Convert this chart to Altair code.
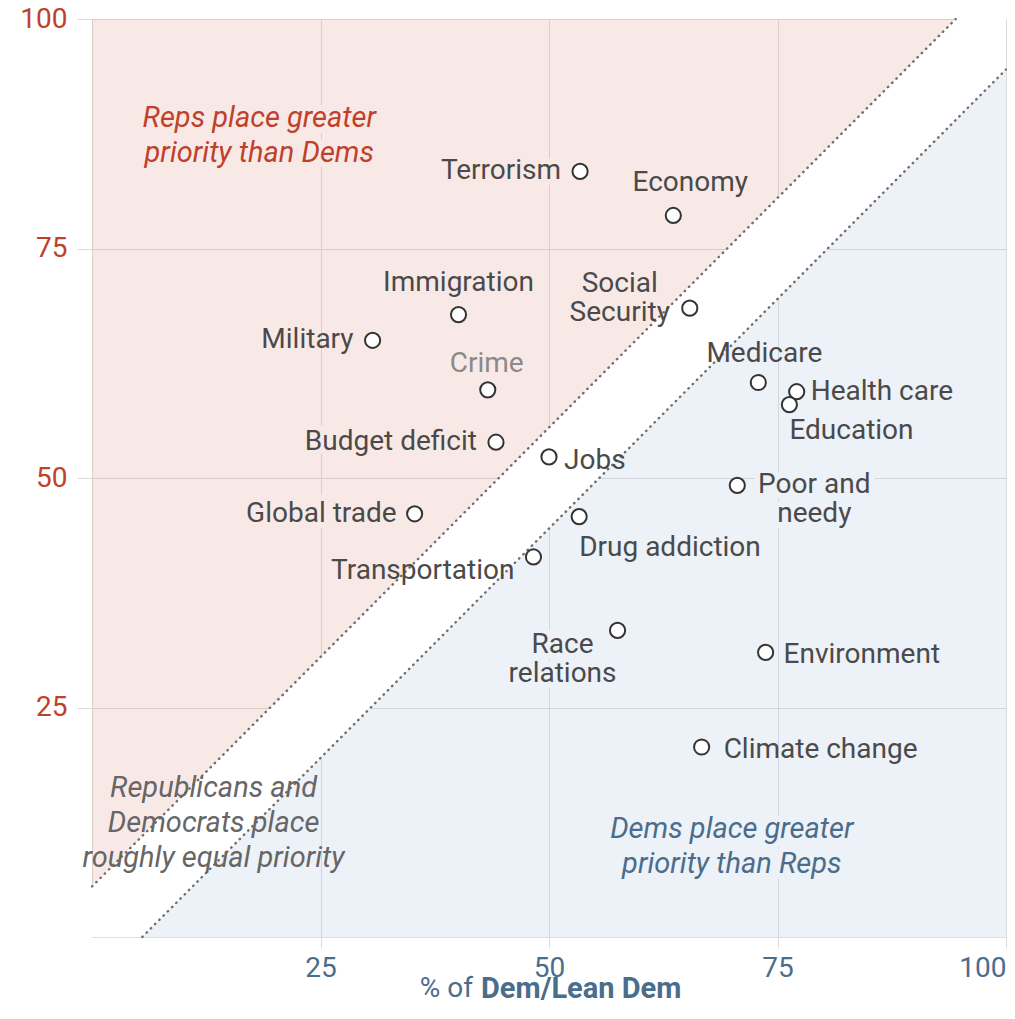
import altair as alt
import pandas as pd

# ---------------- data ----------------
issues = ["Terrorism", "Economy", "Social Security", "Immigration", "Military",
          "Crime", "Medicare", "Health care", "Education", "Poor and needy",
          "Budget deficit", "Jobs", "Global trade", "Drug addiction",
          "Transportation", "Race relations", "Environment", "Climate change"]
dem_pct = [53.4, 63.6, 65.4, 40.1, 30.7, 43.3, 72.9, 77.1, 76.3, 70.6,
           44.2, 50.0, 35.3, 53.3, 48.3, 57.5, 73.7, 66.7]
rep_pct = [83.4, 78.6, 68.5, 67.8, 65.0, 59.6, 60.4, 59.4, 58.0, 49.2,
           53.9, 52.3, 46.1, 45.8, 41.4, 33.4, 31.0, 20.7]
label_text = ["Terrorism", "Economy", "Social\nSecurity", "Immigration", "Military",
              "Crime", "Medicare", "Health care", "Education", "Poor and\nneedy",
              "Budget deficit", "Jobs", "Global trade", "Drug addiction",
              "Transportation", "Race\nrelations", "Environment", "Climate change"]
ticks = [25, 50, 75, 100]
band = 5.5  # half-width of "roughly equal" band, in points

# ---------------- layout / style ----------------
FONT = "Roboto"
W, H = 914, 918
RED = "#c0412b"
BLUE = "#4b6d8c"
GREY_TXT = "#4a4a4a"
GRID = "#dcdcdc"
PINK_BG = "#f9e9e6"
BLUE_BG = "#edf1f8"

# label placement: align, dx, dy (first line), color, halo colour (or None)
label_layout = {
    "Terrorism": ("right", -19, 0, GREY_TXT, PINK_BG),
    "Economy": ("center", 17, -32, GREY_TXT, None),
    "Social Security": ("center", -70, -24, GREY_TXT, None),
    "Immigration": ("center", 0, -32, GREY_TXT, None),
    "Military": ("right", -19, 0, GREY_TXT, None),
    "Crime": ("center", -1, -26, "#8a8a8a", None),
    "Medicare": ("center", 6, -29, GREY_TXT, None),
    "Health care": ("left", 14, 0, GREY_TXT, None),
    "Education": ("left", 0, 26, GREY_TXT, None),
    "Poor and needy": ("center", 77, 0, GREY_TXT, BLUE_BG),
    "Budget deficit": ("right", -19, 0, GREY_TXT, PINK_BG),
    "Jobs": ("left", 15, 4, GREY_TXT, None),
    "Global trade": ("right", -18, 0, GREY_TXT, PINK_BG),
    "Drug addiction": ("left", 0, 31, GREY_TXT, None),
    "Transportation": ("right", -19, 14, GREY_TXT, None),
    "Race relations": ("center", -55, 15, GREY_TXT, BLUE_BG),
    "Environment": ("left", 18, 3, GREY_TXT, BLUE_BG),
    "Climate change": ("left", 22, 3, GREY_TXT, None),
}


def X():
    return alt.X("x:Q", scale=alt.Scale(domain=[0, 100], nice=False, zero=False),
                 axis=alt.Axis(values=ticks, title=None, domain=False, grid=True,
                               gridColor=GRID, gridWidth=1, tickColor=GRID,
                               tickSize=11, labelPadding=6, labelFont=FONT,
                               labelFontSize=28, labelColor=BLUE, labelFlush=True))


def Y():
    return alt.Y("y:Q", scale=alt.Scale(domain=[0, 100], nice=False, zero=False),
                 axis=alt.Axis(values=ticks, title=None, domain=False, grid=True,
                               gridColor=GRID, gridWidth=1, tickColor=GRID,
                               tickSize=15, labelPadding=10, labelFont=FONT,
                               labelFontSize=28, labelColor=RED, labelFlush=False))


pts = pd.DataFrame({"x": dem_pct, "y": rep_pct, "issue": issues, "label": label_text})

pink_df = pd.DataFrame({"x": [0, 100 - band], "y": [band, 100], "y2": [100, 100]})
blue_df = pd.DataFrame({"x": [band, 100], "y": [0, 0], "y2": [0, 100 - band]})
white_df = pd.DataFrame({"x": [0, band, 100 - band, 100],
                         "y": [0, 0, 100 - 2 * band, 100 - band],
                         "y2": [band, 2 * band, 100, 100]})
upper_df = pd.DataFrame({"x": [0, 100 - band], "y": [band, 100]})
lower_df = pd.DataFrame({"x": [band, 100], "y": [0, 100 - band]})

pink = alt.Chart(pink_df).mark_area(color="#e19182", opacity=0.2).encode(
    x=X(), y=Y(), y2="y2:Q")
blue = alt.Chart(blue_df).mark_area(color="#a5b9dc", opacity=0.2).encode(
    x=X(), y=Y(), y2="y2:Q")
white = alt.Chart(white_df).mark_area(color="white", opacity=1).encode(
    x=X(), y=Y(), y2="y2:Q")

# region annotations (text blocks); y is the first line
ann_df = pd.DataFrame({
    "x": [18.3, 13.3, 70.0],
    "y": [89.2, 16.2, 11.8],
    "txt": ["Reps place greater\npriority than Dems",
            "Republicans and\nDemocrats place\nroughly equal priority",
            "Dems place greater\npriority than Reps"],
    "kind": ["rep", "eq", "dem"],
})
ann_style = [("rep", RED, PINK_BG), ("eq", "#666666", None), ("dem", BLUE, BLUE_BG)]

halo_layers = []
for name in issues:
    align, dx, dy, col, halo = label_layout[name]
    if halo:
        halo_layers.append(
            alt.Chart(pts).transform_filter(alt.datum.issue == name).mark_text(
                align=align, baseline="middle", dx=dx, dy=dy, font=FONT, fontSize=28,
                color=halo, stroke=halo, strokeWidth=12, strokeJoin="round",
                lineBreak="\n", lineHeight=29
            ).encode(x=X(), y=Y(), text="label:N")
        )
for kind, col, halo in ann_style:
    if halo:
        halo_layers.append(
            alt.Chart(ann_df).transform_filter(alt.datum.kind == kind).mark_text(
                align="center", baseline="middle", font=FONT, fontSize=29,
                fontStyle="italic", color=halo, stroke=halo, strokeWidth=12,
                strokeJoin="round", lineBreak="\n", lineHeight=35
            ).encode(x=X(), y=Y(), text="txt:N")
        )

dot_style = dict(color="#6f6f6f", strokeWidth=2.4, strokeDash=[0.5, 5.5], strokeCap="round")
upper = alt.Chart(upper_df).mark_line(**dot_style).encode(x=X(), y=Y())
lower = alt.Chart(lower_df).mark_line(**dot_style).encode(x=X(), y=Y())

points = alt.Chart(pts).mark_point(shape="circle", filled=True, fill="white",
                                   stroke="#333333", strokeWidth=2, size=230,
                                   opacity=1).encode(x=X(), y=Y())

labels = []
for name in issues:
    align, dx, dy, col, halo = label_layout[name]
    labels.append(
        alt.Chart(pts).transform_filter(alt.datum.issue == name).mark_text(
            align=align, baseline="middle", dx=dx, dy=dy, font=FONT, fontSize=28,
            color=col, lineBreak="\n", lineHeight=29
        ).encode(x=X(), y=Y(), text="label:N")
    )

ann_layers = []
for kind, col, halo in ann_style:
    ann_layers.append(
        alt.Chart(ann_df).transform_filter(alt.datum.kind == kind).mark_text(
            align="center", baseline="middle", font=FONT, fontSize=29,
            fontStyle="italic", color=col, lineBreak="\n", lineHeight=35
        ).encode(x=X(), y=Y(), text="txt:N")
    )

# x-axis title with mixed weights
title_df = pd.DataFrame({"x": [50], "a": ["% of"], "b": ["Dem/Lean Dem"]})
t1 = alt.Chart(title_df).mark_text(align="right", baseline="middle", dx=-76,
                                   font=FONT, fontSize=28, color=BLUE).encode(
    x=X(), y=alt.value(H + 52), text="a:N")
t2 = alt.Chart(title_df).mark_text(align="left", baseline="middle", dx=-68,
                                   font=FONT, fontSize=29, fontWeight="bold",
                                   color=BLUE).encode(
    x=X(), y=alt.value(H + 52), text="b:N")

chart = alt.layer(pink, blue, white, *halo_layers, upper, lower, points,
                  *labels, *ann_layers, t1, t2).properties(
    width=W, height=H,
    autosize=alt.AutoSizeParams(type="none"),
    padding={"left": 84, "top": 11, "right": 1, "bottom": 68},
).configure_view(strokeWidth=0).configure(background="white")

chart.save("out.html", embed_options={"renderer": "svg", "actions": False})
